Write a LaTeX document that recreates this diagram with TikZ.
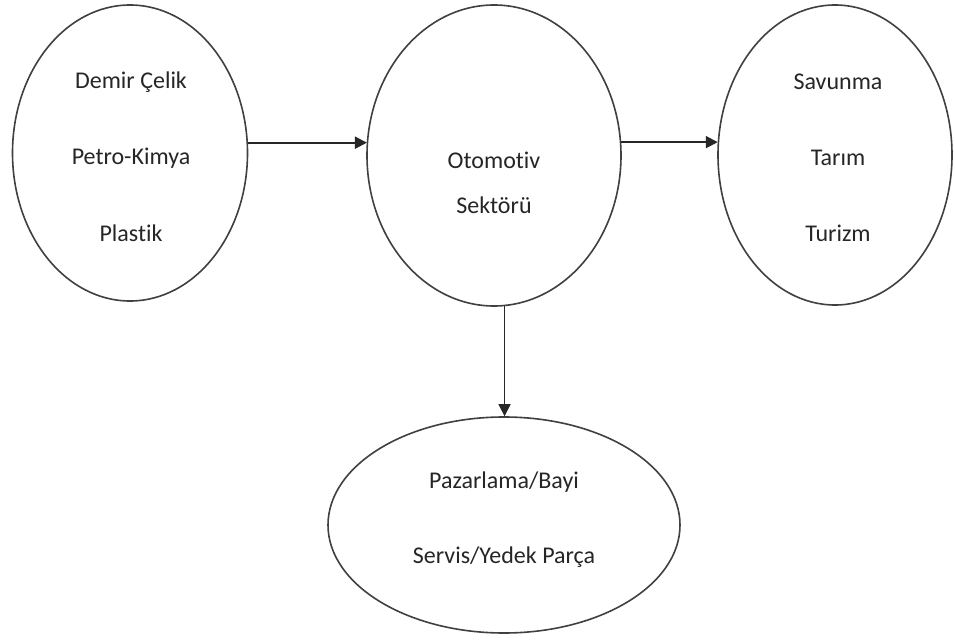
\documentclass[tikz,border=0pt]{standalone}
\usepackage{fontspec}
\setmainfont[Ligatures=NoCommon]{Carlito}
\usetikzlibrary{shapes.geometric,arrows.meta}
\begin{document}
\begin{tikzpicture}[x=1pt,y=-1pt,
  oval/.style={draw=black!75,line width=1.6pt,ellipse,inner sep=0pt},
  lbl/.style={font=\fontsize{24}{28}\selectfont,text=black!85,inner sep=0pt},
  arr/.style={draw=black!85,line width=2pt,-{Triangle[length=12pt,width=12pt]}}]
\useasboundingbox (0,0) rectangle (955,644);
\fill[white] (0,0) rectangle (955,644);
\node[oval,minimum width=235pt,minimum height=296pt] (L) at (130,153) {};
\node[oval,minimum width=254pt,minimum height=301pt] (M) at (494,155.5) {};
\node[oval,minimum width=234pt,minimum height=300pt] (R) at (835,155) {};
\node[oval,minimum width=352pt,minimum height=216pt] (B) at (504,525) {};
\node[lbl] (l1) at (131,82) {Demir Çelik};
\node[lbl] (l2) at (131,158) {Petro-Kimya};
\node[lbl] (l3) at (131,233) {Plastik};
\node[lbl] (m1) at (494,160) {Otomotiv};
\node[lbl] (m2) at (494,205) {Sektörü};
\node[lbl] (r1) at (838,82) {Savunma};
\node[lbl] (r2) at (838,158) {Tarım};
\node[lbl] (r3) at (838,233) {Turizm};
\node[lbl] (b1) at (504,482) {Pazarlama/Bayi};
\node[lbl] (b2) at (504,557) {Servis/Yedek Parça};
\draw[arr] (L.5.4) -- (M.173.9 |- L.5.4);
\draw[arr] (M.6.1) -- (R.173.6 |- M.6.1);
\draw[arr,line width=1.4pt] (M.-86.6) -- (M.-86.6 |- B.north);
\end{tikzpicture}
\end{document}
